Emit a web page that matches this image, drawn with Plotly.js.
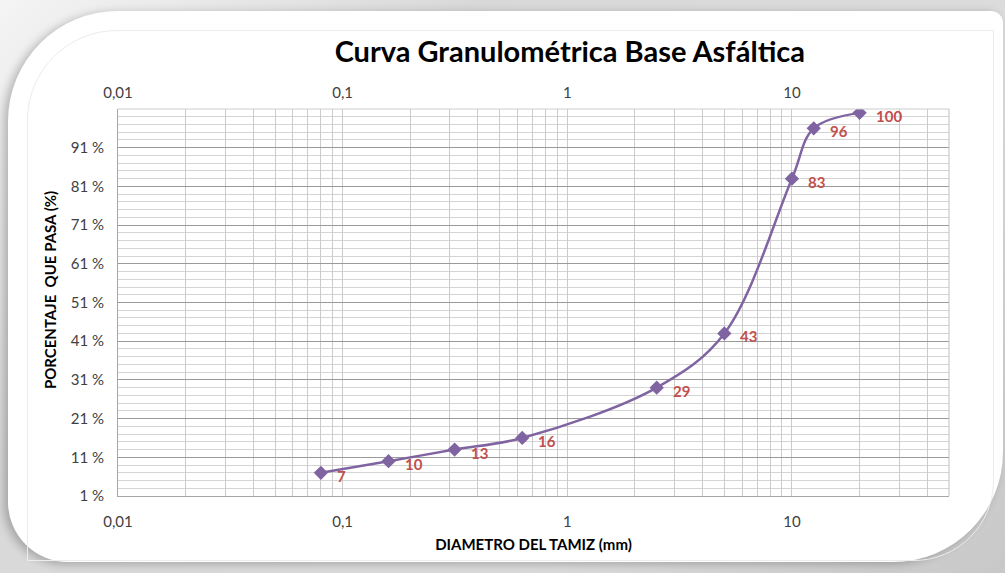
<!DOCTYPE html>
<html>
<head>
<meta charset="utf-8">
<script src="https://cdn.plot.ly/plotly-3.0.1.min.js"></script>
<style>
  html, body { margin:0; padding:0; }
  body { width:1005px; height:573px; overflow:hidden; position:relative;
         background: linear-gradient(135deg, #f4f4f4 0%, #d9d9d9 30%, #dcdcdc 70%, #c8c8c8 100%); }
  #card { position:absolute; left:8px; top:11px; width:995px; height:551px; background:#fff;
          border-radius:110px 12px 110px 60px; box-shadow: -4px 2px 10px rgba(0,0,0,0.25); }
  #inner { position:absolute; left:27px; top:30px; width:965px; height:529px;
           border:1px solid #ececec; border-radius:90px 0 80px 0; }
  #chart { position:absolute; left:0; top:0; width:1005px; height:573px; }
</style>
</head>
<body>
<div id="card"></div>
<div id="inner"></div>
<div id="chart"></div>
<script>
const sieveSizes = [0.08, 0.16, 0.315, 0.63, 2.5, 5, 10, 12.5, 20];
const percentPassing = [7, 10, 13, 16, 29, 43, 83, 96, 100];
const xDecades = [0.01, 0.1, 1, 10];
const xDecadeLabels = ['0,01', '0,1', '1', '10'];
const yTickVals = [1, 11, 21, 31, 41, 51, 61, 71, 81, 91];
const yTickText = ['1 %', '11 %', '21 %', '31 %', '41 %', '51 %', '61 %', '71 %', '81 %', '91 %'];
const xGridMultipliers = [1, 2, 3, 4, 5, 6, 7, 8, 9];

const FONT = 'Lato, "Open Sans", sans-serif';
const labelColor = '#C0504D';
const lineColor = '#8064A2';

// vertical grid positions: every 1..9 multiple of each decade up to 50
const xGridVals = [];
const xGridText = [];
xDecades.forEach((d, di) => {
  xGridMultipliers.forEach(m => {
    const v = d * m;
    if (v <= 50.0001) {
      xGridVals.push(v);
      xGridText.push(m === 1 ? xDecadeLabels[di] : '');
    }
  });
});

const trace = {
  x: sieveSizes, y: percentPassing, type: 'scatter', mode: 'lines+markers',
  line: { color: lineColor, width: 2.5, shape: 'spline', smoothing: 1 },
  marker: { symbol: 'diamond', size: 11, color: lineColor },
  hoverinfo: 'skip', showlegend: false
};
const dummyTop = { x: [0.01, 50], y: [1, 1], xaxis: 'x2', yaxis: 'y', mode: 'none', showlegend: false, hoverinfo: 'skip' };

const annotations = sieveSizes.map((s, i) => ({
  x: Math.log10(s), y: percentPassing[i], xref: 'x', yref: 'y',
  text: '<b>' + percentPassing[i] + '</b>', showarrow: false,
  xanchor: 'left', yanchor: 'middle', xshift: 14, yshift: -3,
  font: { family: FONT, size: 15, color: labelColor }
}));
annotations.push({
  xref: 'paper', yref: 'paper', x: 0, y: 0.532, xshift: -68, xanchor: 'center', yanchor: 'middle',
  textangle: -90, showarrow: false, text: '<b>PORCENTAJE  QUE PASA (%)</b>',
  font: { family: FONT, size: 15, color: '#000' }
});

const layout = {
  width: 1005, height: 573,
  paper_bgcolor: 'rgba(0,0,0,0)', plot_bgcolor: '#ffffff',
  margin: { l: 118, r: 56, t: 109, b: 77 },
  separators: ',.',
  title: { text: '<b>Curva Granulométrica Base Asfáltica</b>', x: 0.567, xanchor: 'center', y: 0.91, yanchor: 'middle',
           font: { family: FONT, size: 29, color: '#000' } },
  xaxis: {
    type: 'log', range: [-2, Math.log10(50)],
    tickvals: xGridVals, ticktext: xGridText, ticks: '',
    showgrid: true, gridcolor: '#cccccc', gridwidth: 1,
    showline: true, linecolor: '#a6a6a6', linewidth: 1, mirror: false, zeroline: false,
    tickfont: { family: FONT, size: 15, color: '#404040' }, ticklabelstandoff: 12,
    title: { text: '<b>DIAMETRO DEL TAMIZ (mm)</b>', standoff: 10, font: { family: FONT, size: 15, color: '#000' } }
  },
  xaxis2: {
    type: 'log', range: [-2, Math.log10(50)], overlaying: 'x', side: 'top',
    tickvals: xDecades, ticktext: xDecadeLabels, ticks: '', showgrid: false, showline: false, zeroline: false,
    tickfont: { family: FONT, size: 15, color: '#404040' }, ticklabelstandoff: 7
  },
  yaxis: {
    range: [1, 101], tickvals: yTickVals, ticktext: yTickText, ticks: '',
    showgrid: true, gridcolor: '#9a9a9a', gridwidth: 1,
    minor: { dtick: 2, tick0: 1, showgrid: true, gridcolor: '#d4d4d4', gridwidth: 1, ticks: '' },
    showline: true, linecolor: '#a6a6a6', linewidth: 1, zeroline: false,
    tickfont: { family: FONT, size: 15, color: '#404040' }, ticklabelstandoff: 10
  },
  shapes: [
    { type: 'line', xref: 'paper', yref: 'paper', x0: 0, x1: 1, y0: 1, y1: 1, line: { color: '#cccccc', width: 1 } },
    { type: 'line', xref: 'paper', yref: 'paper', x0: 1, x1: 1, y0: 0, y1: 1, line: { color: '#bfbfbf', width: 1 } }
  ],
  annotations: annotations
};

Plotly.newPlot('chart', [trace, dummyTop], layout, { displayModeBar: false, staticPlot: true });
</script>
</body>
</html>
